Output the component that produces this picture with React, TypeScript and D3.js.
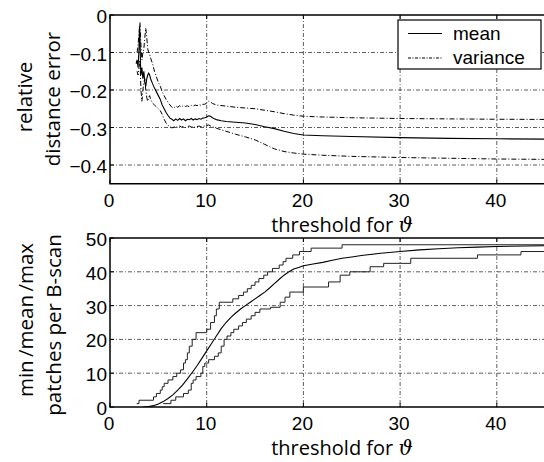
import React from "react";
import * as d3 from "d3";

// ---------- data ----------
const xTicks = [0, 10, 20, 30, 40];
const topYTicks = [0, -0.1, -0.2, -0.3, -0.4];
const botYTicks = [0, 10, 20, 30, 40, 50];

const meanX = [2.7, 2.8, 2.9, 3.0, 3.05, 3.1, 3.15, 3.2, 3.3, 3.4, 3.5, 3.6, 3.7, 3.8, 3.9, 4.0, 4.1, 4.2, 4.4, 4.6, 4.8, 5.0, 5.2, 5.4, 5.6, 5.8, 6.0, 6.2, 6.4, 6.6, 6.8, 7.0, 7.2, 7.4, 7.6, 7.8, 8.0, 8.2, 8.4, 8.6, 8.8, 9.0, 9.2, 9.4, 9.6, 9.8, 10.0, 10.2, 10.4, 10.6, 10.8, 11.0, 11.5, 12, 13, 14, 15, 16, 17, 18, 19, 20, 22, 25, 30, 35, 40, 45, 50];
const meanY = [-0.13, -0.12, -0.14, -0.09, -0.03, -0.05, -0.13, -0.16, -0.14, -0.17, -0.15, -0.18, -0.19, -0.17, -0.16, -0.155, -0.16, -0.17, -0.183, -0.195, -0.205, -0.215, -0.225, -0.24, -0.25, -0.26, -0.268, -0.275, -0.278, -0.282, -0.277, -0.281, -0.276, -0.28, -0.277, -0.282, -0.278, -0.279, -0.276, -0.28, -0.277, -0.279, -0.276, -0.278, -0.275, -0.274, -0.272, -0.269, -0.27, -0.274, -0.277, -0.279, -0.282, -0.284, -0.286, -0.288, -0.292, -0.298, -0.303, -0.31, -0.316, -0.32, -0.322, -0.324, -0.327, -0.329, -0.33, -0.331, -0.332];

const upperX = [2.8, 2.9, 3.0, 3.1, 3.2, 3.3, 3.4, 3.5, 3.6, 3.7, 3.8, 3.9, 4.0, 4.1, 4.2, 4.4, 4.6, 4.8, 5.0, 5.2, 5.4, 5.6, 5.8, 6.0, 6.2, 6.4, 6.6, 6.8, 7.0, 7.2, 7.4, 7.6, 7.8, 8.0, 8.2, 8.4, 8.6, 8.8, 9.0, 9.2, 9.4, 9.6, 9.8, 10.0, 10.2, 10.4, 10.6, 11, 12, 13, 14, 15, 16, 17, 18, 19, 20, 22, 25, 30, 40, 50];
const upperY = [-0.1, -0.08, -0.05, -0.02, -0.08, -0.12, -0.1, -0.09, -0.06, -0.035, -0.06, -0.09, -0.1, -0.105, -0.115, -0.13, -0.15, -0.165, -0.18, -0.19, -0.205, -0.215, -0.225, -0.232, -0.24, -0.246, -0.248, -0.243, -0.246, -0.242, -0.245, -0.241, -0.244, -0.242, -0.245, -0.241, -0.243, -0.24, -0.242, -0.239, -0.241, -0.238, -0.238, -0.235, -0.23, -0.232, -0.236, -0.24, -0.243, -0.246, -0.248, -0.25, -0.254, -0.258, -0.263, -0.267, -0.27, -0.272, -0.274, -0.276, -0.278, -0.279];

const lowerX = [2.8, 2.9, 3.0, 3.1, 3.2, 3.3, 3.4, 3.5, 3.6, 3.7, 3.8, 3.9, 4.0, 4.1, 4.2, 4.4, 4.6, 4.8, 5.0, 5.2, 5.4, 5.6, 5.8, 6.0, 6.2, 6.4, 6.6, 6.8, 7.0, 7.2, 7.4, 7.6, 7.8, 8.0, 8.2, 8.4, 8.6, 8.8, 9.0, 9.2, 9.4, 9.6, 9.8, 10.0, 10.2, 10.4, 11, 12, 13, 14, 15, 16, 17, 18, 19, 20, 22, 25, 30, 40, 50];
const lowerY = [-0.15, -0.16, -0.14, -0.12, -0.2, -0.23, -0.2, -0.18, -0.17, -0.2, -0.22, -0.23, -0.22, -0.215, -0.225, -0.235, -0.24, -0.245, -0.25, -0.255, -0.265, -0.278, -0.288, -0.294, -0.298, -0.301, -0.299, -0.297, -0.3, -0.296, -0.299, -0.297, -0.3, -0.298, -0.296, -0.299, -0.297, -0.3, -0.298, -0.296, -0.298, -0.297, -0.296, -0.295, -0.293, -0.296, -0.302, -0.31, -0.318, -0.325, -0.333, -0.345, -0.357, -0.364, -0.368, -0.371, -0.374, -0.377, -0.38, -0.384, -0.386];

const maxX = [2.76, 3.0, 4.5, 4.8, 5.2, 5.4, 5.6, 6.0, 6.5, 6.9, 7.3, 7.6, 7.8, 8.0, 8.2, 8.5, 8.9, 10.0, 10.4, 10.8, 11.0, 11.3, 12.7, 13.3, 13.8, 14.2, 14.6, 15.0, 15.4, 15.9, 16.3, 16.8, 17.5, 17.9, 18.2, 18.9, 19.6, 20.8, 24.0, 50];
const maxY = [1, 2, 3, 4, 5, 6, 7, 8, 9, 10, 11, 13, 14, 16, 18, 20, 22, 23, 25, 27, 29, 31, 32, 33, 34, 35, 36, 37, 38, 39, 40, 41, 42, 43, 44, 45, 46, 47, 48, 48];

const minX = [5.5, 6.3, 6.8, 7.6, 8.1, 8.4, 8.6, 8.9, 9.4, 9.6, 9.8, 10.2, 10.8, 11.2, 11.5, 11.8, 12.1, 12.5, 12.8, 13.3, 13.7, 14.1, 14.6, 15.0, 15.5, 16.6, 17.6, 18.1, 18.6, 20.0, 22.6, 23.8, 24.8, 26.9, 28.3, 31.1, 38.0, 42.5, 50];
const minY = [1, 2, 3, 4, 5, 7, 8, 9, 10, 12, 13, 14, 15, 16, 18, 20, 21, 22, 23, 24, 25, 26, 27, 28, 29, 29.5, 31, 32.5, 34, 35.5, 37, 39, 40, 41.5, 42.5, 44, 45, 46, 46];

const avgX = [3.4, 4.0, 4.5, 5.0, 5.5, 6.0, 6.5, 7.0, 7.5, 8.0, 8.5, 9.0, 9.5, 10.0, 10.5, 11.0, 11.5, 12.0, 12.5, 13.0, 13.5, 14.0, 14.5, 15.0, 15.5, 16.0, 16.5, 17.0, 17.5, 18.0, 18.5, 19.0, 19.5, 20.0, 21, 22, 23, 24, 25, 26, 28, 30, 32, 34, 36, 38, 40, 45, 50];
const avgY = [0, 0.1, 0.4, 0.9, 1.6, 2.5, 3.6, 5, 6.5, 8.3, 10.2, 12.2, 14.4, 16.6, 18.8, 21, 23.2, 25, 26.5, 27.8, 29, 30, 31, 32, 33, 34, 35.2, 36.5, 37.8, 39, 40, 40.8, 41.3, 41.8, 42.3, 42.8, 43.4, 44, 44.4, 44.8, 45.5, 46, 46.5, 46.8, 47.1, 47.3, 47.5, 47.7, 47.8];

const legendLabels = ["mean", "variance"];

// ---------- layout ----------
const W = 544, H = 462;
const xLeft = 110;
const x = d3.scaleLinear().domain([0, 50]).range([xLeft, xLeft + 483.5]);
const yTop = d3.scaleLinear().domain([-0.45, 0]).range([183.75, 15]);
const yBot = d3.scaleLinear().domain([0, 50]).range([407, 238]);

const tickFont = "'Liberation Sans', Arial, sans-serif";
const labelFont = "'Open Sans', sans-serif";
const GRID_DASH = "4,2,1,2";
const DASHDOT = "5,2,1,2";

function pts(xs: number[], ys: number[]): [number, number][] {
  return xs.map((v, i) => [v, ys[i]]);
}

function Panel({ y, yTicks, fmt, clipId }: { y: d3.ScaleLinear<number, number>; yTicks: number[]; fmt: (v: number) => string; clipId: string }) {
  const [y0, y1] = y.range();
  const bottom = Math.max(y0, y1), top = Math.min(y0, y1);
  const right = x.range()[1];
  return (
    <g>
      <defs>
        <clipPath id={clipId}>
          <rect x={xLeft} y={top} width={right - xLeft} height={bottom - top} />
        </clipPath>
      </defs>
      <rect x={xLeft} y={top} width={right - xLeft} height={bottom - top} fill="#fff" />
      {xTicks.filter((t) => t > 0).map((t) => (
        <line key={"gx" + t} x1={x(t)} x2={x(t)} y1={top} y2={bottom} stroke="#333" strokeWidth={0.8} strokeDasharray={GRID_DASH} />
      ))}
      {yTicks.filter((t) => y(t) > top + 1 && y(t) < bottom - 1).map((t) => (
        <line key={"gy" + t} x1={xLeft} x2={right} y1={y(t)} y2={y(t)} stroke="#333" strokeWidth={0.8} strokeDasharray={GRID_DASH} />
      ))}
      {xTicks.map((t) => (
        <g key={"tx" + t}>
          <line x1={x(t)} x2={x(t)} y1={bottom} y2={bottom - 4} stroke="#000" />
          <line x1={x(t)} x2={x(t)} y1={top} y2={top + 4} stroke="#000" />
          <text x={x(t) - 1} y={bottom + 23} fontFamily={tickFont} fontSize={19} textAnchor="middle">{t}</text>
        </g>
      ))}
      {yTicks.map((t) => (
        <g key={"ty" + t}>
          <line x1={xLeft} x2={xLeft + 4} y1={y(t)} y2={y(t)} stroke="#000" />
          <text x={xLeft - 3} y={y(t) + 1.5} fontFamily={tickFont} fontSize={19} textAnchor="end" dominantBaseline="central">{fmt(t)}</text>
        </g>
      ))}
      <rect x={xLeft} y={top} width={right - xLeft} height={bottom - top} fill="none" stroke="#000" strokeWidth={1.5} />
    </g>
  );
}

export default function App() {
  const lineTop = d3.line<[number, number]>().x((d) => x(d[0])).y((d) => yTop(d[1]));
  const lineBot = d3.line<[number, number]>().x((d) => x(d[0])).y((d) => yBot(d[1]));
  const stepBot = d3.line<[number, number]>().x((d) => x(d[0])).y((d) => yBot(d[1])).curve(d3.curveStepAfter);
  const fmtTop = (v: number) => (v === 0 ? "0" : "\u2212" + Math.abs(v).toFixed(1));
  const fmtBot = (v: number) => String(v);

  return (
    <svg width={W} height={H} style={{ position: "absolute", left: 0, top: 0, background: "#fff" }}>
      <rect x={0} y={0} width={W} height={H} fill="#fff" />
      <Panel y={yTop} yTicks={topYTicks} fmt={fmtTop} clipId="clipTop" />
      <g clipPath="url(#clipTop)" fill="none">
        <path d={lineTop(pts(upperX, upperY)) || ""} stroke="#000" strokeWidth={1} strokeDasharray={DASHDOT} />
        <path d={lineTop(pts(lowerX, lowerY)) || ""} stroke="#000" strokeWidth={1} strokeDasharray={DASHDOT} />
        <path d={lineTop(pts(meanX, meanY)) || ""} stroke="#000" strokeWidth={1.1} />
      </g>
      <g>
        <rect x={398} y={20} width={143} height={49} fill="#fff" stroke="#000" strokeWidth={1.2} />
        <line x1={408} x2={442} y1={33.5} y2={33.5} stroke="#000" strokeWidth={1} />
        <line x1={408} x2={442} y1={58} y2={58} stroke="#000" strokeWidth={1} strokeDasharray={"3,1.5,1,1.5"} />
        <text x={453} y={40} fontFamily={tickFont} fontSize={19}>{legendLabels[0]}</text>
        <text x={453} y={63.5} fontFamily={tickFont} fontSize={19}>{legendLabels[1]}</text>
      </g>

      <Panel y={yBot} yTicks={botYTicks} fmt={fmtBot} clipId="clipBot" />
      <g clipPath="url(#clipBot)" fill="none">
        <path d={stepBot(pts(maxX, maxY)) || ""} stroke="#222" strokeWidth={1} />
        <path d={stepBot(pts(minX, minY)) || ""} stroke="#222" strokeWidth={1} />
        <path d={lineBot(pts(avgX, avgY)) || ""} stroke="#000" strokeWidth={1.1} />
      </g>

      <text x={342} y={231.5} fontFamily={labelFont} fontSize={20} textAnchor="middle">
        threshold for <tspan fontFamily="'DejaVu Serif', serif" fontStyle="italic">ϑ</tspan>
      </text>
      <text x={342} y={455} fontFamily={labelFont} fontSize={20} textAnchor="middle">
        threshold for <tspan fontFamily="'DejaVu Serif', serif" fontStyle="italic">ϑ</tspan>
      </text>
      <text transform="translate(31.5,97) rotate(-90)" fontFamily={labelFont} fontSize={20.5} textAnchor="middle">relative</text>
      <text transform="translate(60,99) rotate(-90)" fontFamily={labelFont} fontSize={20.5} textAnchor="middle">distance error</text>
      <text transform="translate(33,320) rotate(-90)" fontFamily={labelFont} fontSize={20.5} textAnchor="middle">min{"\u2009"}/mean{"\u2009"}/max</text>
      <text transform="translate(61,325) rotate(-90)" fontFamily={labelFont} fontSize={20.5} textAnchor="middle">patches per B-scan</text>
    </svg>
  );
}
